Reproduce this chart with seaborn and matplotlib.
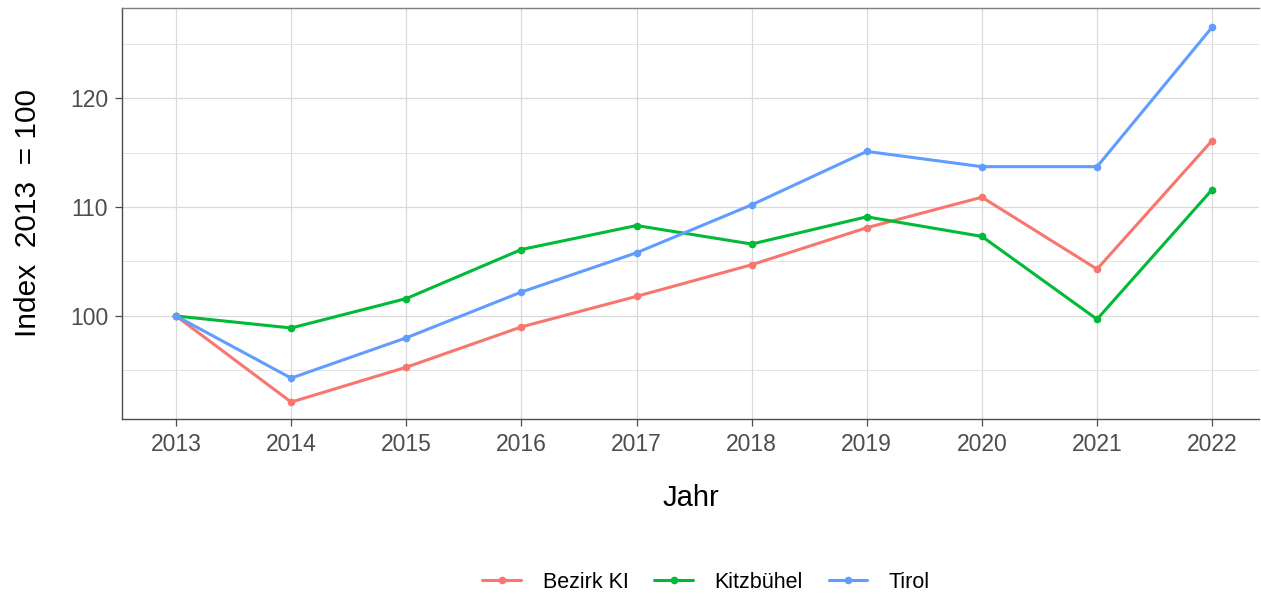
import pandas as pd
import matplotlib
matplotlib.use("Agg")
import matplotlib.pyplot as plt
import seaborn as sns
from matplotlib.ticker import MultipleLocator

years = [2013, 2014, 2015, 2016, 2017, 2018, 2019, 2020, 2021, 2022]
bezirk_ki = [100.0, 92.1, 95.3, 99.0, 101.8, 104.7, 108.1, 110.9, 104.3, 116.1]
kitzbuehel = [100.0, 98.9, 101.6, 106.1, 108.3, 106.6, 109.1, 107.3, 99.7, 111.6]
tirol = [100.0, 94.3, 98.0, 102.2, 105.8, 110.2, 115.1, 113.7, 113.7, 126.5]
series_names = ["Bezirk KI", "Kitzbühel", "Tirol"]
colors = ["#F8766D", "#00BA38", "#619CFF"]

df = pd.DataFrame({
    "Jahr": years * 3,
    "Index": bezirk_ki + kitzbuehel + tirol,
    "Region": [n for n in series_names for _ in years],
})

sns.set_style("white")
plt.rcParams["font.family"] = ["Liberation Sans", "DejaVu Sans"]

fig = plt.figure(figsize=(12.61, 5.96), dpi=100)
ax = fig.add_axes([0.0967, 0.297, 0.902, 0.6896])

sns.lineplot(data=df, x="Jahr", y="Index", hue="Region", hue_order=series_names,
             palette=colors, marker="o", markersize=5.5, markeredgewidth=0,
             linewidth=2.2, ax=ax, zorder=3)

ax.set_xlim(2012.53, 2022.41)
ax.set_ylim(90.55, 128.26)
ax.set_xticks(years)
ax.yaxis.set_major_locator(MultipleLocator(10))
ax.yaxis.set_minor_locator(MultipleLocator(5))
ax.grid(True, which="major", color="#DADADA", linewidth=0.9, zorder=0)
ax.grid(True, which="minor", axis="y", color="#E3E3E3", linewidth=0.7, zorder=0)
ax.set_axisbelow(True)

for side in ["left", "bottom", "top"]:
    ax.spines[side].set_color("#7F7F7F")
    ax.spines[side].set_linewidth(1.0)
ax.spines["right"].set_visible(False)
ax.spines["left"].set_color("#4D4D4D")
ax.spines["bottom"].set_color("#4D4D4D")

ax.tick_params(axis="both", which="major", labelsize=16.5, labelcolor="#4D4D4D",
               length=5, width=0.9, color="#4D4D4D", bottom=True, left=True, pad=5)
ax.tick_params(axis="y", which="minor", length=0)

ax.set_xlabel("Jahr", fontsize=21, labelpad=20, color="black")
ax.set_ylabel("Index  2013  = 100", fontsize=21.5, labelpad=20, color="black")

leg = ax.legend(loc="center", bbox_to_anchor=(0.56, 0.023), bbox_transform=fig.transFigure,
                ncol=3, frameon=False, fontsize=15.5, handlelength=1.8, handletextpad=1.0,
                columnspacing=1.2, title=None)
for t in leg.get_texts():
    t.set_color("black")

fig.savefig("out.png", dpi=100)
